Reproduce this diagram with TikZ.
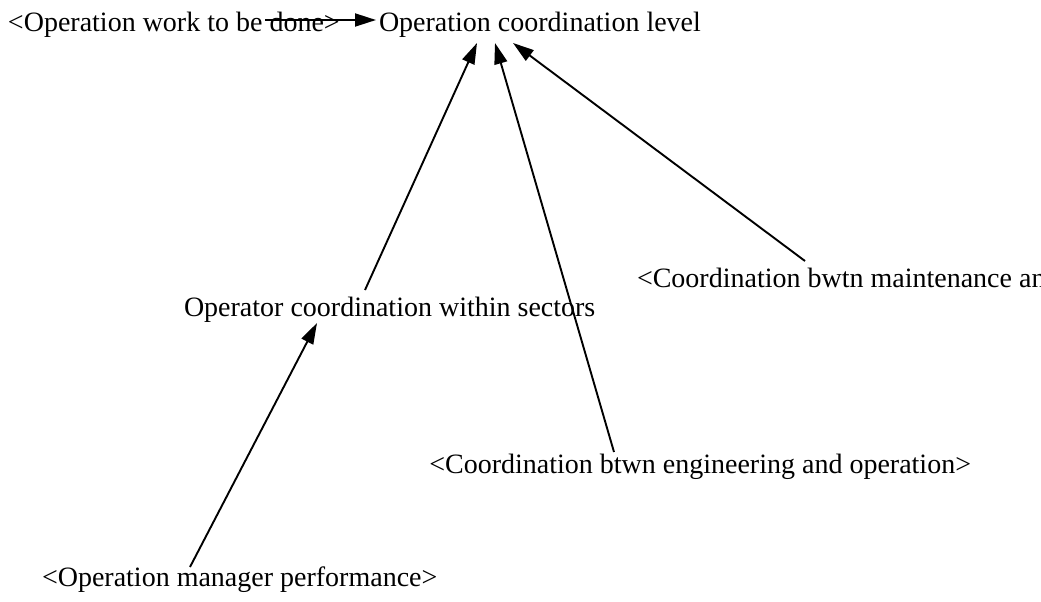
\documentclass[tikz,border=0pt]{standalone}
\usepackage{fontspec}
\setmainfont{Liberation Serif}
\usetikzlibrary{arrows.meta,calc}
\tikzset{
  var/.style={inner sep=0pt, outer sep=0pt, font=\fontsize{28pt}{34pt}\selectfont},
  link/.style={line width=1.9pt, -{Triangle[length=21pt,width=13pt]}}
}
\begin{document}
\begin{tikzpicture}[x=1pt,y=-1pt]
  \useasboundingbox (0,0) rectangle (1041,602);
  \clip (0,0) rectangle (1041,602);
  \fill[white] (0,0) rectangle (1041,602);

  % variables
  \node[var, anchor=base west] (wtd) at (8,32)   {<Operation work to be done>};
  \node[var, anchor=base west] (ocl) at (379,32) {Operation coordination level};
  \node[var, anchor=base west] (ocs) at (184,316) {Operator coordination within sectors};
  \node[var, anchor=base west] (cbm) at (637,287) {<Coordination bwtn maintenance and operation>};
  \node[var, anchor=base east] (cbe) at (971,473) {<Coordination btwn engineering and operation>};
  \node[var, anchor=base west] (omp) at (42,586)  {<Operation manager performance>};

  % causal links
  \draw[link] ($(wtd.base west)+(257,-12)$) -- ($(ocl.base west)+(-3,-12)$);
  \draw[link] ($(ocs.base west)+(181,-26)$) -- ($(ocl.base west)+(98,11)$);
  \draw[link] ($(cbe.base east)+(-357,-21)$) -- ($(ocl.base west)+(116,11)$);
  \draw[link] ($(cbm.base west)+(168,-26)$) -- ($(ocl.base west)+(134,11)$);
  \draw[link] ($(omp.base west)+(148,-19)$) -- ($(ocs.base west)+(133,7)$);
\end{tikzpicture}
\end{document}
